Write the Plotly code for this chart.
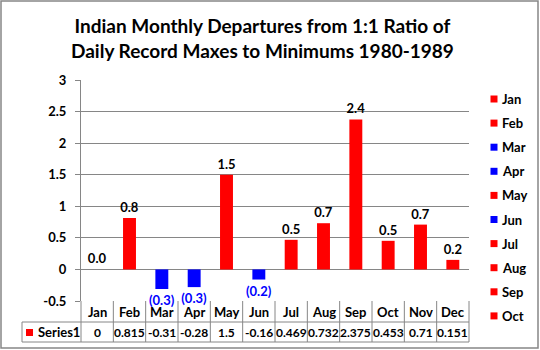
import plotly.graph_objects as go

months = ["Jan", "Feb", "Mar", "Apr", "May", "Jun", "Jul", "Aug", "Sep", "Oct", "Nov", "Dec"]
values = [0, 0.815, -0.31, -0.28, 1.5, -0.16, 0.469, 0.732, 2.375, 0.453, 0.71, 0.151]
series_name = "Series1"
y_ticks = [-0.5, 0, 0.5, 1, 1.5, 2, 2.5, 3]
y_tick_labels = ["-0.5", "0", "0.5", "1", "1.5", "2", "2.5", "3"]
legend_months_shown = 10
title_text = "Indian Monthly Departures from 1:1 Ratio of<br>Daily Record Maxes to Minimums 1980-1989"

RED = "#FF0000"
BLUE = "#0000FF"
GRID = "#868686"
FONT = "Lato"

ML, MR, MT, MB = 81, 71, 80, 49
W, H = 540, 350
PW, PH = W - ML - MR, H - MT - MB


def px_x(x):
    return (x - ML) / PW


def px_y(y):
    return (H - MB - y) / PH


def label(v):
    if v < 0:
        return f"({abs(v):.1f})"
    return f"{v:.1f}"


def color_of(v):
    return BLUE if v < 0 else RED


fig = go.Figure()
for i, (m, v) in enumerate(zip(months, values)):
    col = color_of(v)
    fig.add_trace(go.Bar(
        x=[m], y=[v], name=m, width=0.4,
        marker=dict(color=col, line=dict(width=0)),
        text=[label(v)], textposition="outside", cliponaxis=False, constraintext="none",
        textfont=dict(color=col if v < 0 else "black", size=13, family=FONT, weight="bold"),
        showlegend=False,
    ))

shapes = []
annotations = []
line = dict(color=GRID, width=1)
y_head_bot = px_y(322)
y_tab_bot = px_y(342)
x_tab_left = px_x(22)
for k in range(13):
    shapes.append(dict(type="line", xref="paper", yref="paper", x0=k / 12, x1=k / 12,
                       y0=0, y1=y_tab_bot, line=line))
shapes.append(dict(type="line", xref="paper", yref="paper", x0=x_tab_left, x1=1,
                   y0=y_head_bot, y1=y_head_bot, line=line))
shapes.append(dict(type="line", xref="paper", yref="paper", x0=x_tab_left, x1=1,
                   y0=y_tab_bot, y1=y_tab_bot, line=line))
shapes.append(dict(type="line", xref="paper", yref="paper", x0=x_tab_left, x1=x_tab_left,
                   y0=y_head_bot, y1=y_tab_bot, line=line))
# series key square in table
shapes.append(dict(type="rect", xref="paper", yref="paper", x0=px_x(26), x1=px_x(33),
                   y0=px_y(336), y1=px_y(329), fillcolor=RED, line=dict(width=0)))
# outer chart border
shapes.append(dict(type="rect", xref="paper", yref="paper", x0=px_x(1), x1=px_x(538),
                   y0=px_y(348), y1=px_y(1), line=dict(color=GRID, width=1.5)))

tf = dict(family=FONT, size=13, color="black", weight="bold")
vf = dict(family=FONT, size=12, color="black", weight="bold")
for m, v in zip(months, values):
    annotations.append(dict(x=m, xref="x", y=px_y(311.5), yref="paper", text=m,
                            showarrow=False, font=tf, xanchor="center", yanchor="middle"))
    annotations.append(dict(x=m, xref="x", y=px_y(332), yref="paper", text=f"{v:g}",
                            showarrow=False, font=vf, xanchor="center", yanchor="middle"))
annotations.append(dict(x=px_x(36), xref="paper", y=px_y(332), yref="paper", text=series_name,
                        showarrow=False, font=tf, xanchor="left", yanchor="middle"))

# legend (Excel style, clipped after Oct)
for i in range(legend_months_shown):
    yc = 99 + 24.1 * i
    shapes.append(dict(type="rect", xref="paper", yref="paper", x0=px_x(490.5), x1=px_x(497.5),
                       y0=px_y(yc + 3.5), y1=px_y(yc - 3.5), fillcolor=color_of(values[i]),
                       line=dict(width=0)))
    annotations.append(dict(x=px_x(500), xref="paper", y=px_y(yc), yref="paper", text=months[i],
                            showarrow=False, font=tf, xanchor="left", yanchor="middle"))

# title
annotations.append(dict(x=262 / W, xref="paper", y=px_y(37.5), yref="paper", text=title_text,
                        showarrow=False, xanchor="center", yanchor="middle",
                        font=dict(family=FONT, size=19, color="black", weight="bold")))
# fix title x in paper coords
annotations[-1]["x"] = px_x(262)

fig.update_layout(
    width=W, height=H,
    margin=dict(l=ML, r=MR, t=MT, b=MB),
    paper_bgcolor="white", plot_bgcolor="white",
    barmode="relative",
    showlegend=False,
    font=dict(family=FONT, size=13, color="black", weight="bold"),
    xaxis=dict(categoryorder="array", categoryarray=months, showticklabels=False,
               showgrid=False, zeroline=False, showline=False, range=[-0.5, 11.5]),
    yaxis=dict(range=[-0.5, 3], tickvals=y_ticks, ticktext=y_tick_labels,
               showgrid=True, gridcolor=GRID, gridwidth=1,
               zeroline=True, zerolinecolor=GRID, zerolinewidth=1,
               showline=True, linecolor=GRID, linewidth=1,
               ticks="outside", ticklen=5, tickcolor=GRID,
               ticklabelstandoff=6, tickfont=tf),
    shapes=shapes, annotations=annotations,
)

fig.write_html("out.html")
